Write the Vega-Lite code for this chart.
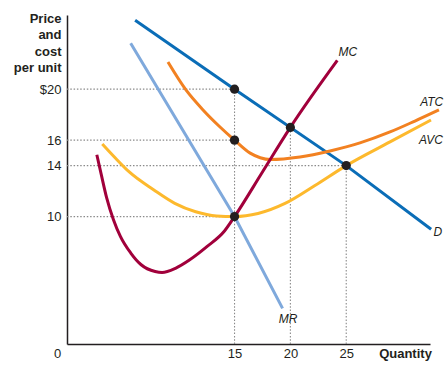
{
  "$schema": "https://vega.github.io/schema/vega-lite/v6.json",
  "autosize": {"type": "none"},
  "width": 363,
  "height": 329,
  "padding": {"left": 67, "top": 15, "right": 15, "bottom": 25},
  "background": "white",
  "config": {
    "view": {"stroke": null},
    "font": "Liberation Sans",
    "axis": {"domainColor": "#231f20", "domainWidth": 1.5, "ticks": false, "grid": false, "labelColor": "#231f20", "labelFont": "Liberation Sans", "labelFontSize": 13, "titleFont": "Liberation Sans", "titleFontSize": 13, "titleFontWeight": "bold", "titleColor": "#231f20", "labelOverlap": false, "labelFlush": false}
  },
  "datasets": {
    "curves": [
      {"curve": "D", "q": 6.1, "p": 25.4}, {"curve": "D", "q": 15, "p": 20}, {"curve": "D", "q": 25, "p": 14}, {"curve": "D", "q": 32.6, "p": 9.0},
      {"curve": "MR", "q": 5.7, "p": 23.6}, {"curve": "MR", "q": 15, "p": 10}, {"curve": "MR", "q": 19.3, "p": 2.8},
      {"curve": "AVC", "q": 3.16, "p": 15.7}, {"curve": "AVC", "q": 4.35, "p": 14.58}, {"curve": "AVC", "q": 5.6, "p": 13.48}, {"curve": "AVC", "q": 7.78, "p": 12.09}, {"curve": "AVC", "q": 9.65, "p": 11.04}, {"curve": "AVC", "q": 11.52, "p": 10.38}, {"curve": "AVC", "q": 13.39, "p": 10.05}, {"curve": "AVC", "q": 15, "p": 10}, {"curve": "AVC", "q": 17.1, "p": 10.24}, {"curve": "AVC", "q": 19.52, "p": 11.03}, {"curve": "AVC", "q": 22.2, "p": 12.44}, {"curve": "AVC", "q": 25, "p": 14}, {"curve": "AVC", "q": 28.92, "p": 15.86}, {"curve": "AVC", "q": 32.59, "p": 17.58},
      {"curve": "ATC", "q": 9.04, "p": 22.13}, {"curve": "ATC", "q": 10.65, "p": 19.94}, {"curve": "ATC", "q": 12.18, "p": 18.37}, {"curve": "ATC", "q": 13.7, "p": 17.03}, {"curve": "ATC", "q": 15, "p": 16}, {"curve": "ATC", "q": 16.4, "p": 14.98}, {"curve": "ATC", "q": 17.3, "p": 14.62}, {"curve": "ATC", "q": 18.2, "p": 14.48}, {"curve": "ATC", "q": 20.86, "p": 14.68}, {"curve": "ATC", "q": 23.55, "p": 15.15}, {"curve": "ATC", "q": 26.23, "p": 15.78}, {"curve": "ATC", "q": 28.92, "p": 16.64}, {"curve": "ATC", "q": 31.15, "p": 17.5}, {"curve": "ATC", "q": 33.3, "p": 18.37},
      {"curve": "MC", "q": 2.67, "p": 14.85}, {"curve": "MC", "q": 3.07, "p": 13.29}, {"curve": "MC", "q": 3.54, "p": 11.51}, {"curve": "MC", "q": 4.16, "p": 9.76}, {"curve": "MC", "q": 4.78, "p": 8.45}, {"curve": "MC", "q": 5.71, "p": 7.14}, {"curve": "MC", "q": 6.64, "p": 6.22}, {"curve": "MC", "q": 7.89, "p": 5.69}, {"curve": "MC", "q": 8.51, "p": 5.61}, {"curve": "MC", "q": 9.75, "p": 5.96}, {"curve": "MC", "q": 10.99, "p": 6.61}, {"curve": "MC", "q": 12.55, "p": 7.66}, {"curve": "MC", "q": 14.1, "p": 8.87}, {"curve": "MC", "q": 15, "p": 10}, {"curve": "MC", "q": 17.5, "p": 13.5}, {"curve": "MC", "q": 20, "p": 17}, {"curve": "MC", "q": 24.2, "p": 22.25}
    ],
    "guides": [
      {"q": 0, "q2": 15, "p": 20, "p2": 20},
      {"q": 0, "q2": 15, "p": 16, "p2": 16},
      {"q": 0, "q2": 25, "p": 14, "p2": 14},
      {"q": 0, "q2": 15, "p": 10, "p2": 10},
      {"q": 15, "q2": 15, "p": 0, "p2": 20},
      {"q": 20, "q2": 20, "p": 0, "p2": 17},
      {"q": 25, "q2": 25, "p": 0, "p2": 14}
    ],
    "dots": [
      {"q": 15, "p": 20}, {"q": 15, "p": 16}, {"q": 15, "p": 10}, {"q": 20, "p": 17}, {"q": 25, "p": 14}
    ],
    "labels": [
      {"label": "MC", "q": 25.15, "p": 22.94},
      {"label": "ATC", "q": 32.65, "p": 19.02},
      {"label": "AVC", "q": 32.59, "p": 16.0},
      {"label": "D", "q": 33.2, "p": 8.8},
      {"label": "MR", "q": 19.79, "p": 2.0}
    ]
  },
  "encoding": {
    "x": {"field": "q", "type": "quantitative", "scale": {"domain": [0, 32.5], "nice": false, "zero": false},
      "axis": {"values": [0, 15, 20, 25], "title": "Quantity", "titleX": 338, "titleY": 3, "titleAlign": "center", "titleBaseline": "top", "labelPadding": 3, "labelBaseline": "top",
        "labelOffset": {"condition": {"test": "datum.value == 0", "value": -10}, "value": 0}}},
    "y": {"field": "p", "type": "quantitative", "scale": {"domain": [0, 25.82], "nice": false, "zero": false},
      "axis": {"values": [10, 14, 16, 20], "labelExpr": "datum.value == 20 ? '$20' : datum.label", "labelPadding": 6,
        "title": ["Price", "and", "cost", "per unit"], "titleAngle": 0, "titleAlign": "right", "titleBaseline": "top", "titleX": -6, "titleY": -3, "titleLineHeight": 16.5}}
  },
  "layer": [
    {"data": {"name": "guides"}, "mark": {"type": "rule", "color": "#8a8a8a", "strokeWidth": 1.1, "strokeDash": [1.5, 1.8]},
      "encoding": {"x2": {"field": "q2"}, "y2": {"field": "p2"}}},
    {"data": {"name": "curves"}, "transform": [{"filter": "datum.curve == 'D'"}], "mark": {"type": "line", "color": "#0a6db7", "strokeWidth": 3}, "encoding": {}},
    {"data": {"name": "curves"}, "transform": [{"filter": "datum.curve == 'MR'"}], "mark": {"type": "line", "color": "#7fa9dc", "strokeWidth": 3}, "encoding": {}},
    {"data": {"name": "curves"}, "transform": [{"filter": "datum.curve == 'AVC'"}], "mark": {"type": "line", "color": "#fdb92d", "strokeWidth": 3, "interpolate": "monotone"}, "encoding": {}},
    {"data": {"name": "curves"}, "transform": [{"filter": "datum.curve == 'ATC'"}], "mark": {"type": "line", "color": "#f28121", "strokeWidth": 3, "interpolate": "monotone"}, "encoding": {}},
    {"data": {"name": "curves"}, "transform": [{"filter": "datum.curve == 'MC'"}], "mark": {"type": "line", "color": "#a1003b", "strokeWidth": 3, "interpolate": "monotone"}, "encoding": {}},
    {"data": {"name": "dots"}, "mark": {"type": "circle", "color": "#231f20", "opacity": 1, "size": 85}},
    {"data": {"name": "labels"}, "mark": {"type": "text", "font": "Liberation Sans", "fontSize": 12, "fontStyle": "italic", "color": "#231f20", "align": "center", "baseline": "middle"},
      "encoding": {"text": {"field": "label"}}}
  ]
}
